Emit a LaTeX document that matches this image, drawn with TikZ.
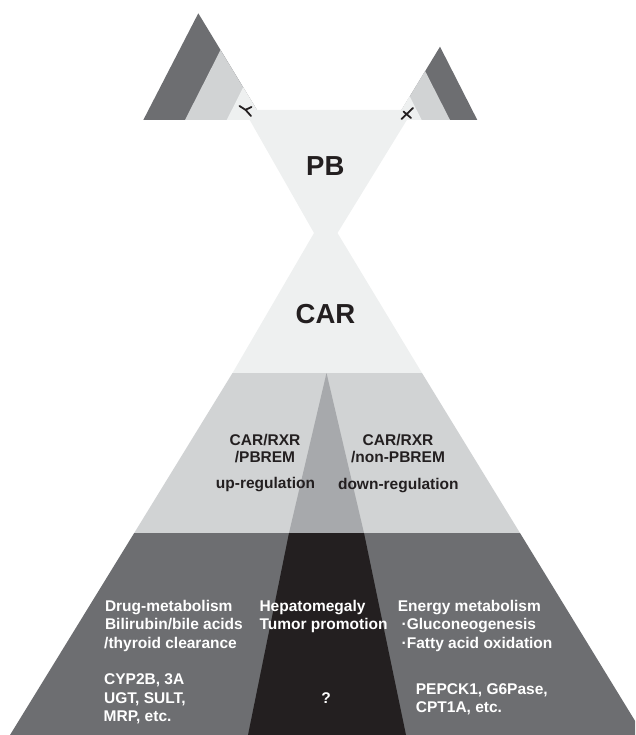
\documentclass[tikz,border=0pt]{standalone}
\usepackage{fontspec}
\setmainfont{Liberation Sans}
\definecolor{gdark}{HTML}{6D6E71}
\definecolor{gmid}{HTML}{D1D3D4}
\definecolor{glight}{HTML}{EEF0F0}
\definecolor{gwedge}{HTML}{A7A9AC}
\definecolor{gblack}{HTML}{231F20}
\tikzset{
  txtk/.style={font=\bfseries\fontsize{15.5}{18}\selectfont, text=gblack, inner sep=0pt},
  txtw/.style={font=\bfseries\fontsize{15.5}{18}\selectfont, text=white, inner sep=0pt},
  bigtxt/.style={font=\bfseries\fontsize{27.5}{30}\selectfont, text=gblack, inner sep=0pt},
  ligand/.style={draw=gblack, line width=1.8pt, line cap=round, line join=round}
}
\begin{document}
\begin{tikzpicture}[x=1pt,y=-1pt]
\useasboundingbox (0,0) rectangle (635,735);
\clip (0,0) rectangle (635,735);
% ---- left receptor triangle
\fill[gdark] (198.3,13.3) -- (263,120) -- (143.3,120) -- cycle;
\fill[gmid] (220.5,50) -- (263,120) -- (185,120) -- cycle;
\fill[glight] (243.2,87.3) -- (263,120) -- (226.7,120) -- cycle;
% ---- right receptor triangle
\fill[gdark] (440,46.7) -- (477.3,120) -- (395.5,120) -- cycle;
\fill[gmid] (425.1,71.0) -- (450,120) -- (395.5,120) -- cycle;
\fill[glight] (409.6,96.2) -- (421.7,120) -- (395.5,120) -- cycle;
% ---- PB / CAR hourglass
\fill[glight] (244,110) -- (413,110) -- (337.5,233) -- (422,373) -- (232.5,373) -- (314,233) -- cycle;
% ---- middle band
\fill[gmid] (232.5,373) -- (422,373) -- (520,533) -- (134.2,533) -- cycle;
\fill[gwedge] (326.5,373) -- (364,533) -- (289,533) -- cycle;
% ---- bottom band
\fill[gdark] (134.2,533) -- (520,533) -- (643.7,735) -- (10,735) -- cycle;
\fill[gblack] (289,533) -- (364,533) -- (406,735) -- (248,735) -- cycle;
% ---- ligand marks
\draw[ligand] (239.5,106) -- (245.5,109.8) -- (251.5,107);
\draw[ligand] (245.5,109.8) -- (251,116);
\draw[ligand] (401.5,119) -- (413,108);
\draw[ligand] (403.5,111.5) -- (411,118);
% ---- titles
\node[bigtxt, anchor=base] (pb) at (325.3,176) {PB};
\node[bigtxt, anchor=base] (car) at (325.5,323.3) {CAR};
% ---- middle band texts
\node[txtk, anchor=base] (lm1) at (265,445.2) {CAR/RXR};
\node[txtk, anchor=base] (lm2) at (265,462.8) {/PBREM};
\node[txtk, anchor=base] (lm3) at (265.5,488.4) {up-regulation};
\node[txtk, anchor=base] (rm1) at (398,445.2) {CAR/RXR};
\node[txtk, anchor=base] (rm2) at (398,462.8) {/non-PBREM};
\node[txtk, anchor=base] (rm3) at (398.3,489) {down-regulation};
% ---- bottom band texts
\node[txtw, anchor=base west] (lb1) at (104.8,611) {Drug-metabolism};
\node[txtw, anchor=base west] (lb2) at (104.8,629.5) {Bilirubin/bile acids};
\node[txtw, anchor=base west] (lb3) at (104,648) {/thyroid clearance};
\node[txtw, anchor=base west] (lg1) at (104,684.3) {CYP2B, 3A};
\node[txtw, anchor=base west] (lg2) at (104,703) {UGT, SULT,};
\node[txtw, anchor=base west] (lg3) at (103.5,721.7) {MRP, etc.};
\node[txtw, anchor=base west] (cb1) at (259.3,611) {Hepatomegaly};
\node[txtw, anchor=base west] (cb2) at (259.3,629.5) {Tumor promotion};
\node[txtw, anchor=base] (cq) at (326,703) {?};
\node[txtw, anchor=base west] (rb1) at (397.7,611) {Energy metabolism};
\node[txtw, anchor=base west] (rb2) at (401.5,629.5) {·Gluconeogenesis};
\node[txtw, anchor=base west] (rb3) at (401.5,648) {·Fatty acid oxidation};
\node[txtw, anchor=base west] (rg1) at (415.7,694.3) {PEPCK1, G6Pase,};
\node[txtw, anchor=base west] (rg2) at (415.7,712.3) {CPT1A, etc.};
\end{tikzpicture}
\end{document}
